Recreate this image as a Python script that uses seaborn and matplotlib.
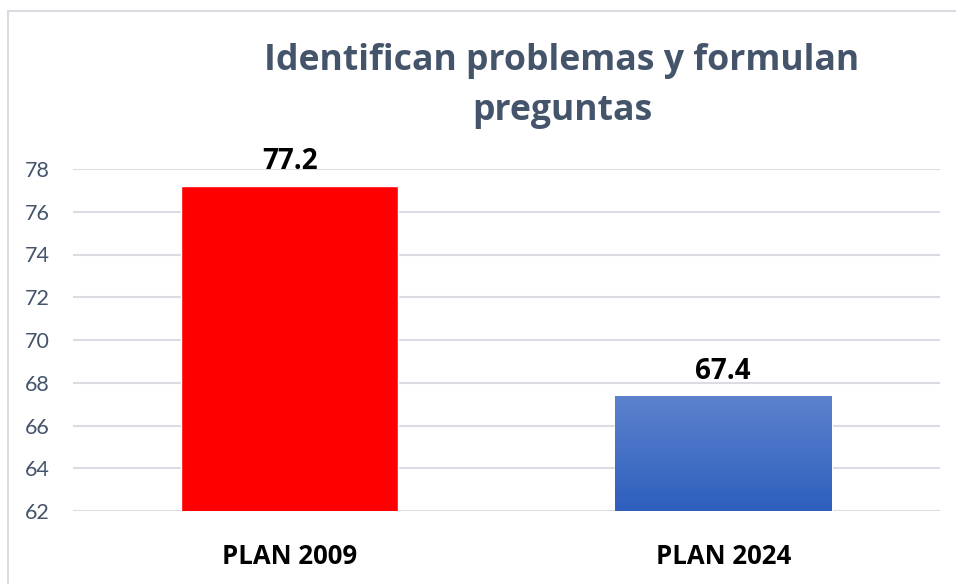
import numpy as np
import pandas as pd
import matplotlib
matplotlib.use("Agg")
import matplotlib.pyplot as plt
import seaborn as sns
from matplotlib.patches import Rectangle

categories = ["PLAN 2009", "PLAN 2024"]
values = [77.2, 67.4]
yticks = [62, 64, 66, 68, 70, 72, 74, 76, 78]
title = "Identifican problemas y formulan\npreguntas"

sns.set_theme(style="white")
plt.rcParams["font.family"] = ["Lato", "DejaVu Sans"]
BOLD = ["Open Sans", "DejaVu Sans"]

df = pd.DataFrame({"plan": categories, "valor": values})

fig = plt.figure(figsize=(9.56, 5.84), dpi=100)
ax = fig.add_axes([73 / 956, 1 - 511 / 584, (940 - 73) / 956, (511 - 169) / 584])

sns.barplot(data=df, x="plan", y="valor", ax=ax, width=0.5,
            palette=["#FF0000", "#4472C4"], hue="plan", legend=False,
            saturation=1, zorder=3)

ax.set_ylim(62, 78)
ax.set_xlim(-0.5, 1.5)
ax.set_yticks(yticks)
ax.yaxis.grid(True, color="#D9DDE3", linewidth=1.5, zorder=0)
ax.set_axisbelow(True)
for s in ax.spines.values():
    s.set_visible(False)
ax.set_xlabel("")
ax.set_ylabel("")
ax.tick_params(axis="y", length=0, pad=17, labelsize=15.5, labelcolor="#44546A")
ax.tick_params(axis="x", length=0, pad=23, labelsize=18.5)
for lbl in ax.get_xticklabels():
    lbl.set_fontweight("bold")
    lbl.set_family(BOLD)
    lbl.set_color("black")

# vertical gradient fill for the second bar
patches = ax.patches
blue = patches[1]
x0, w = blue.get_x(), blue.get_width()
y1 = blue.get_height()
blue.set_facecolor("none")
top = np.array([92, 130, 205]) / 255
bot = np.array([46, 95, 189]) / 255
t = np.linspace(0, 1, 256)[:, None]
grad = (top[None, :] * t + bot[None, :] * (1 - t))[:, None, :]
im = ax.imshow(grad, extent=[x0, x0 + w, 62, y1], origin="lower",
               aspect="auto", zorder=3)
im.set_clip_path(blue)
ax.set_xlim(-0.5, 1.5)
ax.set_ylim(62, 78)

for i, v in enumerate(values):
    ax.text(i, v + 0.45, f"{v:.1f}", ha="center", va="bottom",
            fontsize=20, fontweight="bold", color="black", family=BOLD)

fig.text(562 / 956, 1 - 86 / 584, title, ha="center", va="center",
         fontsize=25.7, fontweight="bold", color="#44546A", linespacing=1.5,
         family=BOLD)

fig.patches.append(Rectangle((8 / 956, -0.01), 1.0, 1 - 11 / 584 + 0.01,
                             transform=fig.transFigure, fill=False,
                             edgecolor="#D9DDE3", linewidth=1.5))

fig.savefig("out.png", dpi=100)
